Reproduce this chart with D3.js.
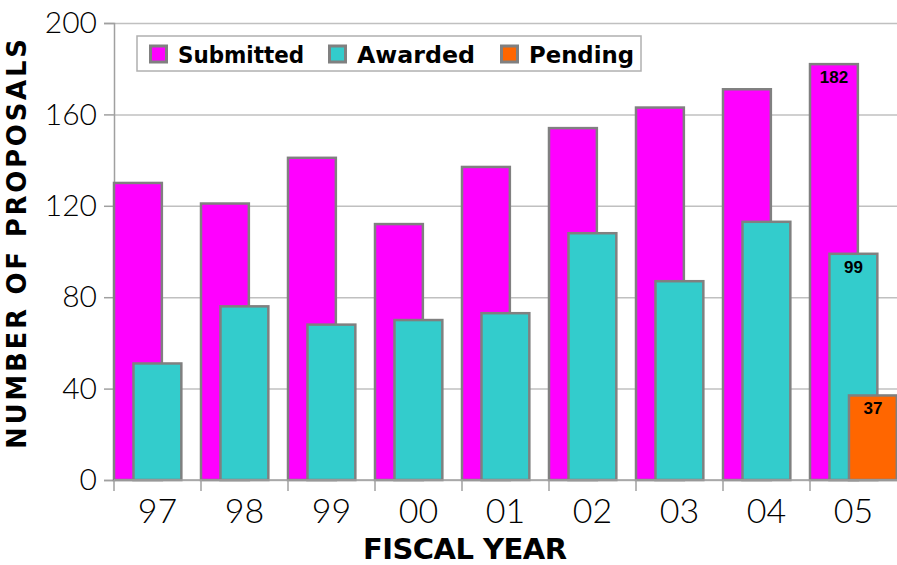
<!DOCTYPE html>
<html>
<head>
<meta charset="utf-8">
<script src="https://cdn.jsdelivr.net/npm/d3@7"></script>
<style>
  body { margin: 0; background: #fff; }
  svg { display: block; }
</style>
</head>
<body>
<div id="chart"></div>
<script>
// Data
var years = ['97', '98', '99', '00', '01', '02', '03', '04', '05'];
var submitted = [130, 121, 141, 112, 137, 154, 163, 171, 182];
var awarded = [51, 76, 68, 70, 73, 108, 87, 113, 99];
var pending = [null, null, null, null, null, null, null, null, 37];
var seriesNames = ['Submitted', 'Awarded', 'Pending'];
var seriesColors = ['#ff00ff', '#33cccc', '#ff6600'];
var yTicks = [0, 40, 80, 120, 160, 200];
var labelledYear = '05';

var W = 897, H = 565;
var margin = { top: 23, right: 0, bottom: 85, left: 114 };
var thinFont = 'Lato, "DejaVu Sans", sans-serif';
var boldFont = '"DejaVu Sans", Lato, sans-serif';

var svg = d3.select('#chart').append('svg')
  .attr('width', W)
  .attr('height', H);

var x = d3.scaleBand()
  .domain(years)
  .range([margin.left, W - margin.right])
  .padding(0);

var y = d3.scaleLinear()
  .domain([0, 200])
  .range([H - margin.bottom, margin.top]);

var bw = x.bandwidth();
var barW = bw * 0.55;
var step = bw * 0.224;

// Grid lines
svg.append('g')
  .attr('transform', 'translate(' + margin.left + ',0)')
  .call(d3.axisLeft(y).tickValues(yTicks).tickSize(-(W - margin.left)).tickFormat(''))
  .call(function (g) {
    g.select('.domain').remove();
    g.selectAll('line').attr('stroke', '#c0c0c0').attr('stroke-width', 1.5);
  });

// Y axis with labels
svg.append('g')
  .attr('transform', 'translate(' + margin.left + ',0)')
  .call(d3.axisLeft(y).tickValues(yTicks).tickSize(10).tickPadding(7))
  .call(function (g) {
    g.select('.domain').attr('stroke', '#a0a0a0').attr('stroke-width', 1.5);
    g.selectAll('line').attr('stroke', '#a0a0a0').attr('stroke-width', 1.5);
    g.selectAll('text')
      .attr('font-family', thinFont)
      .attr('font-weight', 300)
      .attr('font-size', 30)
      .attr('fill', '#000');
  });

// Series
var series = [submitted, awarded, pending];
series.forEach(function (vals, si) {
  var data = years.map(function (yr, i) { return { year: yr, value: vals[i] }; })
    .filter(function (d) { return d.value != null; });

  svg.append('g').selectAll('rect')
    .data(data)
    .enter()
    .append('rect')
    .attr('x', function (d) { return x(d.year) + step * si; })
    .attr('y', function (d) { return y(d.value); })
    .attr('width', barW)
    .attr('height', function (d) { return y(0) - y(d.value); })
    .attr('fill', seriesColors[si])
    .attr('stroke', '#808080')
    .attr('stroke-width', 2.5);

  svg.append('g').selectAll('text')
    .data(data.filter(function (d) { return d.year === labelledYear; }))
    .enter()
    .append('text')
    .attr('x', function (d) { return x(d.year) + step * si + barW / 2; })
    .attr('y', function (d) { return y(d.value) + 19; })
    .attr('text-anchor', 'middle')
    .attr('font-family', '"Liberation Sans Narrow", "Liberation Sans", Arial, sans-serif')
    .attr('font-weight', 'bold')
    .attr('font-size', 17)
    .attr('fill', '#000')
    .text(function (d) { return d.value; });
});

// X axis: ticks at band boundaries, labels centered
var xAxisG = svg.append('g')
  .attr('transform', 'translate(0,' + y(0) + ')');
xAxisG.append('line')
  .attr('x1', margin.left).attr('x2', W)
  .attr('stroke', '#a0a0a0').attr('stroke-width', 1.5);
xAxisG.selectAll('.tk')
  .data(years)
  .enter()
  .append('line')
  .attr('class', 'tk')
  .attr('x1', function (d) { return x(d); })
  .attr('x2', function (d) { return x(d); })
  .attr('y1', 0).attr('y2', 11)
  .attr('stroke', '#a0a0a0').attr('stroke-width', 1.5);
xAxisG.selectAll('.lbl')
  .data(years)
  .enter()
  .append('text')
  .attr('class', 'lbl')
  .attr('x', function (d) { return x(d) + bw / 2; })
  .attr('y', 43)
  .attr('text-anchor', 'middle')
  .attr('font-family', thinFont)
  .attr('font-weight', 300)
  .attr('font-size', 34)
  .attr('fill', '#000')
  .text(function (d) { return d; });

// Axis titles
svg.append('text')
  .attr('x', 465)
  .attr('y', 559)
  .attr('text-anchor', 'middle')
  .attr('font-family', boldFont)
  .attr('font-weight', 'bold')
  .attr('font-size', 29)
  .attr('textLength', 204)
  .attr('lengthAdjust', 'spacing')
  .attr('fill', '#000')
  .text('FISCAL YEAR');

svg.append('text')
  .attr('transform', 'translate(26,244) rotate(-90)')
  .attr('text-anchor', 'middle')
  .attr('font-family', boldFont)
  .attr('font-weight', 'bold')
  .attr('font-size', 26)
  .attr('textLength', 410)
  .attr('lengthAdjust', 'spacing')
  .attr('fill', '#000')
  .text('NUMBER OF PROPOSALS');

// Legend
var legend = svg.append('g');
legend.append('rect')
  .attr('x', 137).attr('y', 36)
  .attr('width', 504).attr('height', 35)
  .attr('fill', '#fff')
  .attr('stroke', '#b0b0b0')
  .attr('stroke-width', 1.5);
var legendX = [149, 328, 500];
var legendW = [126, 118, 105];
seriesNames.forEach(function (name, i) {
  legend.append('rect')
    .attr('x', legendX[i] + 1.5).attr('y', 46)
    .attr('width', 16).attr('height', 16)
    .attr('fill', seriesColors[i])
    .attr('stroke', '#808080')
    .attr('stroke-width', 3);
  legend.append('text')
    .attr('x', legendX[i] + 29)
    .attr('y', 63)
    .attr('font-family', boldFont)
    .attr('font-weight', 'bold')
    .attr('font-size', 22.5)
    .attr('textLength', legendW[i])
    .attr('lengthAdjust', 'spacingAndGlyphs')
    .attr('fill', '#000')
    .text(name);
});
</script>
</body>
</html>
